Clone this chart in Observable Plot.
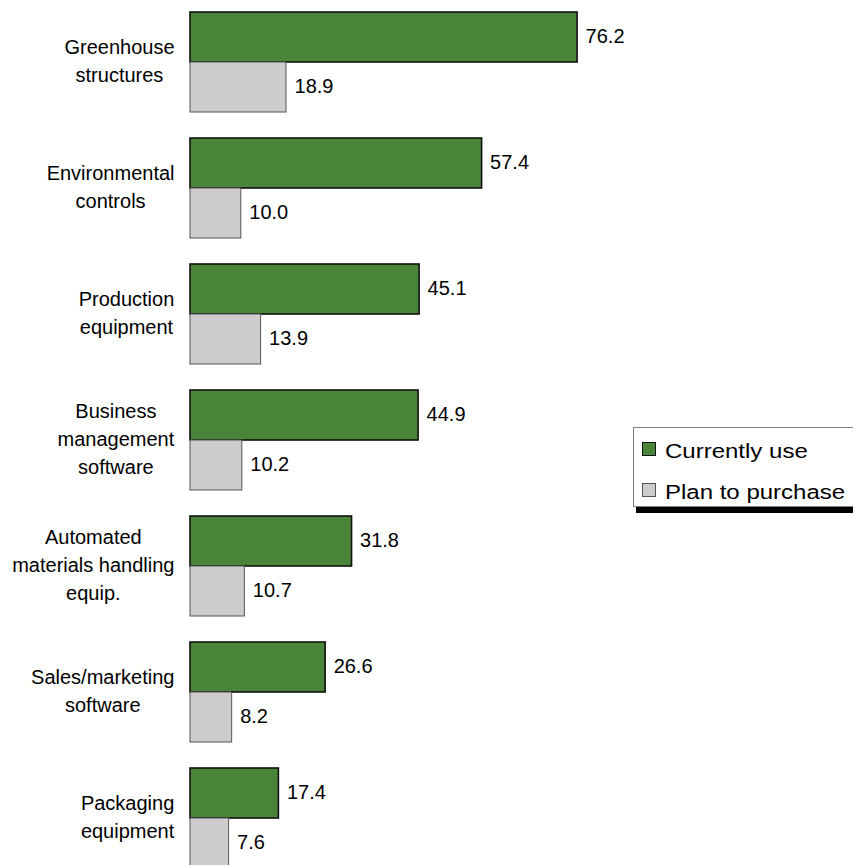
<!DOCTYPE html>
<html>
<head>
<meta charset="utf-8">
<script src="https://cdn.jsdelivr.net/npm/d3@7"></script>
<script src="https://cdn.jsdelivr.net/npm/@observablehq/plot@0.6"></script>
<style>
  html, body { margin: 0; padding: 0; background: #fff; overflow: hidden; }
  #wrap { position: relative; width: 853px; height: 865px; overflow: hidden; font-family: "Liberation Sans", Arial, sans-serif; }
  #legend { position: absolute; left: 633px; top: 427px; width: 240px; height: 78px; border: 1px solid #808080; background: #fff; box-shadow: 3px 6px 0 #000; }
  .item { position: absolute; left: 8px; height: 24px; white-space: nowrap; }
  .sw { position: absolute; left: 0; top: 0; width: 12px; height: 12px; border: 1px solid #333; }
  .lab { position: absolute; left: 23px; top: -1.5px; font-size: 20px; line-height: 20px; color: #000; transform: scaleX(1.2); transform-origin: left center; }
</style>
</head>
<body>
<div id="wrap"></div>
<script>
const categories = [
  "Greenhouse structures",
  "Environmental controls",
  "Production equipment",
  "Business management software",
  "Automated materials handling equip.",
  "Sales/marketing software",
  "Packaging equipment"
];
const categoryLabels = [
  "Greenhouse\nstructures",
  "Environmental\ncontrols",
  "Production\nequipment",
  "Business\nmanagement\nsoftware",
  "Automated\nmaterials handling\nequip.",
  "Sales/marketing\nsoftware",
  "Packaging\nequipment"
];
const seriesNames = ["Currently use", "Plan to purchase"];
const currentlyUse = [76.2, 57.4, 45.1, 44.9, 31.8, 26.6, 17.4];
const planToPurchase = [18.9, 10.0, 13.9, 10.2, 10.7, 8.2, 7.6];
const seriesColors = ["#4a8438", "#cccccc"];
const seriesStrokes = ["#111111", "#555555"];

const data = [];
categories.forEach((c, i) => {
  data.push({category: c, series: seriesNames[0], value: currentlyUse[i]});
  data.push({category: c, series: seriesNames[1], value: planToPurchase[i]});
});
const labelOf = new Map(categories.map((c, i) => [c, categoryLabels[i]]));

const font = "'Liberation Sans', Arial, sans-serif";

const chart = Plot.plot({
  width: 853,
  height: 880,
  marginLeft: 190,
  marginRight: 155,
  marginTop: 10,
  marginBottom: 11,
  style: {fontFamily: font, background: "#fff"},
  x: {domain: [0, 100], axis: null},
  fy: {domain: categories, paddingInner: 0.2, paddingOuter: 0, axis: null, label: null},
  y: {domain: seriesNames, padding: 0, axis: null},
  color: {domain: seriesNames, range: seriesColors},
  marks: [
    Plot.barX(data, {
      x: "value", y: "series", fy: "category", fill: "series",
      stroke: d => seriesStrokes[seriesNames.indexOf(d.series)],
      strokeWidth: d => d.series === seriesNames[0] ? 1.6 : 1
    }),
    Plot.text(data, {
      x: "value", y: "series", fy: "category",
      text: d => d.value.toFixed(1),
      textAnchor: "start", dx: 8, dy: -1, fontSize: 20, fill: "#000"
    }),
    Plot.text(categories, {
      fy: d => d, text: d => labelOf.get(d),
      frameAnchor: "left", textAnchor: "end", dx: -16, dy: -2.5,
      lineHeight: 1.4, fontSize: 20, fill: "#000",
      className: "catlabel"
    })
  ]
});

const wrap = document.getElementById("wrap");
wrap.appendChild(chart);

// center each multi-line category label within its own block (right edge fixed)
chart.querySelectorAll(".catlabel text").forEach(t => {
  const w = t.getBBox().width;
  t.setAttribute("text-anchor", "middle");
  const tr = t.getAttribute("transform") || "";
  t.setAttribute("transform", tr + ` translate(${-w / 2},0)`);
});

// legend
const color = chart.scale("color");
const legend = document.createElement("div");
legend.id = "legend";
color.domain.forEach((name, i) => {
  const item = document.createElement("div");
  item.className = "item";
  item.style.top = (14 + i * 41) + "px";
  const sw = document.createElement("div");
  sw.className = "sw";
  sw.style.background = color.range[i];
  sw.style.borderColor = seriesStrokes[i];
  const lab = document.createElement("div");
  lab.className = "lab";
  lab.textContent = name;
  item.appendChild(sw);
  item.appendChild(lab);
  legend.appendChild(item);
});
wrap.appendChild(legend);
</script>
</body>
</html>
